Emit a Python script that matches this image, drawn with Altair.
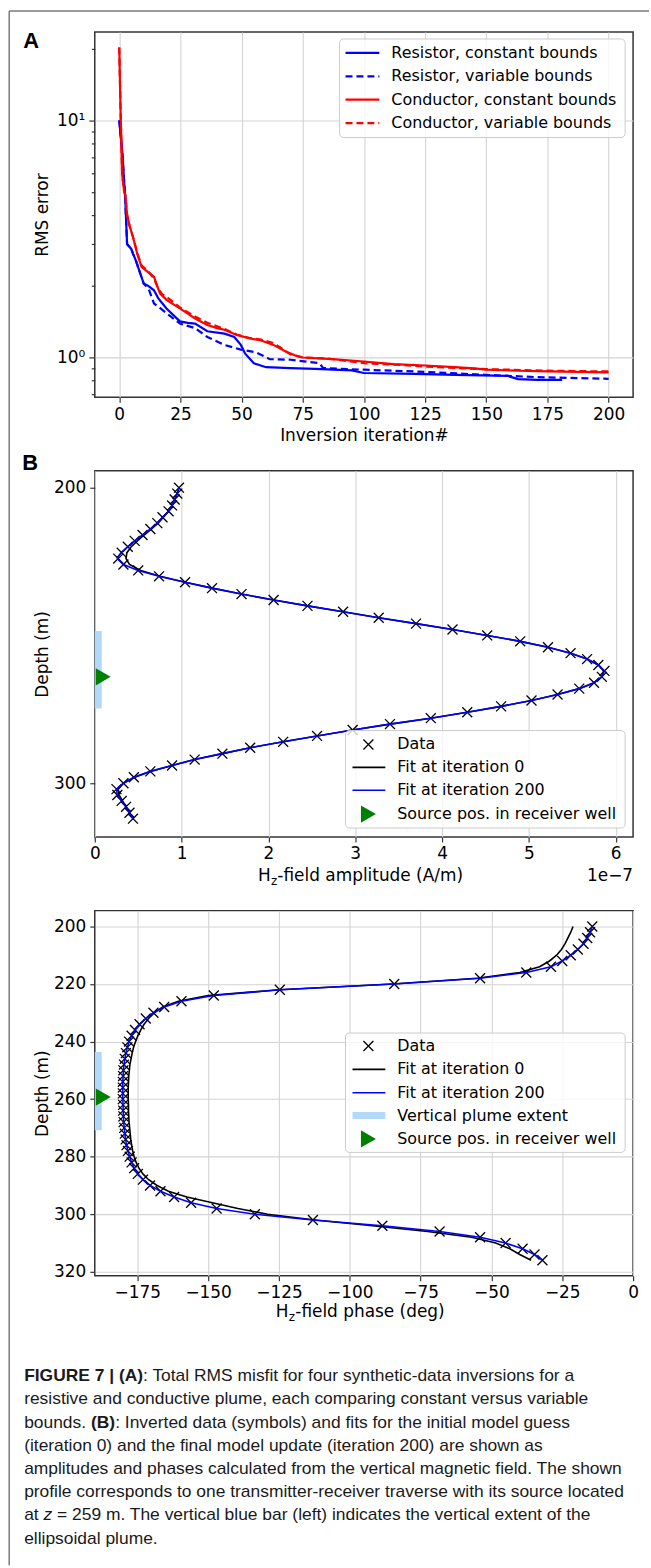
import altair as alt
import pandas as pd

# ---------------- Panel A: RMS error per inversion iteration ----------------
res_const_iter = [0, 1.2, 2.4, 3.2, 4.9, 5.7, 6.8, 10, 12, 14.2, 15.9, 19.3, 24.8, 28, 31, 36,
                  43, 47, 49.7, 51.4, 55, 60, 70, 80, 95, 100, 120.6, 137.5, 158.6, 163, 171, 181]
res_const_rms = [10.0, 7.4, 4.8, 3.01, 2.87, 2.73, 2.56, 2.05, 2.0, 1.92, 1.78, 1.61, 1.42, 1.40, 1.39, 1.29,
                 1.26, 1.22, 1.13, 1.04, 0.946, 0.91, 0.902, 0.896, 0.882, 0.86, 0.853, 0.845, 0.837, 0.811, 0.805, 0.805]

res_var_iter = [0, 1.2, 2.4, 3.2, 4.9, 5.7, 6.8, 10, 12, 14.2, 15.9, 21, 24.8, 31, 36, 43, 49.7, 56,
                61.5, 70, 81.8, 83.4, 100, 120.6, 150, 171, 200]
res_var_rms = [10.0, 7.4, 4.8, 3.01, 2.87, 2.73, 2.56, 2.05, 1.95, 1.69, 1.64, 1.49, 1.39, 1.33, 1.22, 1.13, 1.08, 1.05,
               0.984, 0.978, 0.946, 0.902, 0.888, 0.873, 0.845, 0.826, 0.813]

con_const_iter = [0, 0.5, 1.2, 2.0, 2.5, 3.2, 4.2, 5.7, 7.4, 9.1, 12, 14.2, 15.5, 16.7, 19.3, 22, 24.8, 28, 31, 36,
                  40, 43, 48, 53, 58, 63, 68, 72, 75, 87, 100, 112, 125, 137, 145, 150, 163, 175, 200]
con_const_rms = [20.3, 11.5, 5.9, 5.0, 4.85, 4.0, 3.6, 3.2, 2.73, 2.41, 2.28, 2.19, 2.0, 1.86, 1.75, 1.68, 1.61, 1.53, 1.46, 1.37,
                 1.33, 1.31, 1.245, 1.205, 1.18, 1.13, 1.06, 1.02, 1.0, 0.984, 0.962, 0.938, 0.925, 0.91, 0.90, 0.888, 0.879, 0.873, 0.865]

con_var_iter = [0, 0.5, 1.2, 2.0, 2.5, 3.2, 4.2, 5.7, 7.4, 9.1, 12, 14.2, 16, 17.5, 20, 25, 31, 36, 43, 48,
                53, 58, 63, 66, 70, 75, 85, 100, 115, 125, 140, 150, 175, 200]
con_var_rms = [20.3, 11.5, 5.9, 5.0, 4.85, 4.0, 3.6, 3.2, 2.75, 2.45, 2.3, 2.15, 1.95, 1.85, 1.78, 1.62, 1.49, 1.40, 1.32, 1.25,
               1.21, 1.19, 1.15, 1.10, 1.03, 1.0, 0.99, 0.946, 0.93, 0.916, 0.90, 0.893, 0.88, 0.873]

legend_a_labels = ["Resistor, constant bounds", "Resistor, variable bounds",
                   "Conductor, constant bounds", "Conductor, variable bounds"]

# ---------------- Panel B: Hz amplitude (units of 1e-7 A/m) vs depth ----------------
amp_depth = list(range(200, 313, 2))
amp_data = [0.97, 0.95, 0.92, 0.89, 0.85, 0.78, 0.72, 0.64, 0.55, 0.46,
            0.38, 0.31, 0.27, 0.33, 0.50, 0.74, 1.04, 1.35, 1.69, 2.06,
            2.45, 2.86, 3.27, 3.70, 4.12, 4.52, 4.90, 5.22, 5.48, 5.67,
            5.80, 5.87, 5.84, 5.75, 5.58, 5.33, 5.03, 4.68, 4.29, 3.87,
            3.40, 2.97, 2.56, 2.17, 1.79, 1.47, 1.15, 0.89, 0.64, 0.45,
            0.33, 0.25, 0.26, 0.31, 0.36, 0.40, 0.44]
amp_fit0 = [0.97, 0.95, 0.92, 0.89, 0.85, 0.79, 0.73, 0.65, 0.57, 0.49,
            0.42, 0.37, 0.36, 0.40, 0.53, 0.75, 1.04, 1.35, 1.69, 2.06,
            2.45, 2.86, 3.27, 3.70, 4.12, 4.52, 4.90, 5.22, 5.48, 5.67,
            5.80, 5.86, 5.84, 5.75, 5.58, 5.33, 5.03, 4.68, 4.29, 3.87,
            3.40, 2.97, 2.56, 2.17, 1.79, 1.47, 1.15, 0.89, 0.64, 0.46,
            0.33, 0.27, 0.28, 0.32, 0.36, 0.40, 0.44]
amp_fit200 = [0.97, 0.95, 0.92, 0.89, 0.85, 0.78, 0.72, 0.64, 0.55, 0.46,
              0.38, 0.30, 0.26, 0.33, 0.50, 0.74, 1.04, 1.35, 1.69, 2.06,
              2.45, 2.86, 3.27, 3.70, 4.12, 4.52, 4.90, 5.22, 5.48, 5.67,
              5.80, 5.87, 5.84, 5.75, 5.58, 5.33, 5.03, 4.68, 4.29, 3.87,
              3.40, 2.97, 2.56, 2.17, 1.79, 1.47, 1.15, 0.89, 0.64, 0.45,
              0.33, 0.25, 0.26, 0.31, 0.36, 0.40, 0.44]
plume_b = [248.5, 274.7]
source_b = [0.097, 264.0]

# ---------------- Panel C: Hz phase (deg) vs depth ----------------
phase_depth = list(range(200, 317, 2))
phase_data = [-14.4, -15.2, -16.2, -17.5, -19.5, -22.0, -25.0, -29.0, -37.7, -54.0,
              -84.3, -124.7, -148.0, -159.4, -165.5, -169.3, -172.0, -174.2, -175.8, -177.0,
              -177.9, -178.5, -179.0, -179.4, -179.7, -179.9, -180.0, -180.1, -180.1, -180.1,
              -180.1, -180.0, -180.0, -179.9, -179.8, -179.6, -179.4, -179.1, -178.8, -178.3,
              -177.7, -177.0, -176.1, -174.8, -173.0, -170.5, -166.8, -162.0, -156.0, -147.0,
              -133.5, -113.0, -88.5, -68.3, -54.0, -45.0, -39.0, -34.8, -32.0]
phase_fit0 = [-21.2, -22.0, -23.0, -24.0, -25.3, -27.0, -29.5, -33.0, -40.0, -55.0,
              -85.0, -124.7, -150.0, -160.5, -166.0, -169.0, -171.0, -172.6, -173.8, -174.8,
              -175.6, -176.3, -176.8, -177.2, -177.6, -177.8, -178.0, -178.1, -178.2, -178.2,
              -178.2, -178.1, -178.1, -178.0, -177.9, -177.7, -177.5, -177.3, -177.0, -176.6,
              -176.1, -175.4, -174.4, -173.0, -171.0, -168.0, -164.0, -157.5, -148.5, -139.5,
              -129.0, -112.3, -92.0, -72.5, -57.0, -48.5, -43.5, -40.0, -36.0]
phase_fit200 = list(phase_data)
plume_c = [243.6, 270.8]
source_c = [-187.0, 259.3]

legend_b_labels = ["Data", "Fit at iteration 0", "Fit at iteration 200", "Source pos. in receiver well"]
legend_c_labels = ["Data", "Fit at iteration 0", "Fit at iteration 200", "Vertical plume extent",
                   "Source pos. in receiver well"]

caption_lines = [
    "",
    "resistive and conductive plume, each comparing constant versus variable",
    "",
    "(iteration 0) and the final model update (iteration 200) are shown as",
    "amplitudes and phases calculated from the vertical magnetic field. The shown",
    "profile corresponds to one transmitter-receiver traverse with its source located",
    "",
    "ellipsoidal plume.",
]

# ---------------- styling ----------------
FONT = "DejaVu Sans"
CAP_FONT = "Liberation Sans"
CAP_SIZE = 17.5
BLUE, RED, GREEN, PLUME = "#0000ff", "#ff0000", "#008000", "#b3d9fa"
XPATH = "M-1,-1L1,1M-1,1L1,-1"
W = 541
HA, HB, HC = 367, 368, 367
one = pd.DataFrame({"k": [0]})


def deco_text(text, x, y, size=16, align="left", baseline="middle", weight="normal",
              style="normal", font=FONT, color="black"):
    return alt.Chart(one).mark_text(
        text=text, align=align, baseline=baseline, fontSize=size, fontWeight=weight,
        fontStyle=style, font=font, color=color
    ).encode(x=alt.value(x), y=alt.value(y))


def cap_text(text, x, y, weight="normal", style="normal"):
    return deco_text(text, x, y, size=CAP_SIZE, baseline="alphabetic", weight=weight,
                     style=style, font=CAP_FONT, color="#1a1a1a")


def legend_box(x1, y1, x2, y2):
    return alt.Chart(one).mark_rect(
        fill="white", fillOpacity=0.8, stroke="#cccccc", strokeWidth=1, cornerRadius=4
    ).encode(x=alt.value(x1), x2=alt.value(x2), y=alt.value(y1), y2=alt.value(y2))


def legend_labels(labels, ys, x):
    df = pd.DataFrame({"label": labels, "lx": [x] * len(labels), "ly": ys})
    return alt.Chart(df).mark_text(
        align="left", baseline="middle", font=FONT, fontSize=16, color="black"
    ).encode(x=alt.X("lx:Q", scale=None, axis=None),
             y=alt.Y("ly:Q", scale=None, axis=None), text="label:N")


def legend_line(x1, x2, y, color, width, dash=None):
    kw = dict(color=color, strokeWidth=width)
    if dash:
        kw["strokeDash"] = dash
    return alt.Chart(one).mark_rule(**kw).encode(x=alt.value(x1), x2=alt.value(x2), y=alt.value(y))


def legend_symbol(x, y, shape, filled, color, size, width=1.3):
    return alt.Chart(one).mark_point(
        shape=shape, filled=filled, color=color, size=size, opacity=1, strokeWidth=width
    ).encode(x=alt.value(x), y=alt.value(y))


# ---------------- Panel A ----------------
xA = dict(field="iter", type="quantitative",
          scale=alt.Scale(domain=[-10, 210], nice=False, zero=False),
          axis=alt.Axis(values=list(range(0, 201, 25)), title="Inversion iteration#",
                        titleX=W / 2, titleY=39, titleAlign="center", titleBaseline="middle"))
major_test = "datum.value == 1 || datum.value == 10"
yA = dict(field="rms", type="quantitative",
          scale=alt.Scale(type="log", domain=[0.68, 23.6], nice=False),
          axis=alt.Axis(values=[0.7, 0.8, 0.9, 1, 2, 3, 4, 5, 6, 7, 8, 9, 10, 20],
                        labelExpr="datum.value == 1 ? '10⁰' : (datum.value == 10 ? '10¹' : '')",
                        tickSize={"condition": {"test": major_test, "value": 6}, "value": 3.5},
                        gridColor={"condition": {"test": major_test, "value": "#d3d3d3"},
                                   "value": "transparent"},
                        title="RMS error", titleX=-53, titleY=HA / 2, titleAngle=270,
                        titleAlign="center", titleBaseline="middle"))


def rms_line(iters, vals, color, dash=None):
    df = pd.DataFrame({"iter": iters, "rms": vals})
    kw = dict(color=color, strokeWidth=2.2)
    if dash:
        kw["strokeDash"] = dash
    return alt.Chart(df).mark_line(**kw).encode(
        x=alt.X(**xA), y=alt.Y(**yA), order=alt.Order("iter:Q"))


DASH = [7, 4]
leg_a_y = [21, 44.5, 68, 91.5]
panel_a = alt.layer(
    rms_line(res_const_iter, res_const_rms, BLUE),
    rms_line(res_var_iter, res_var_rms, BLUE, DASH),
    rms_line(con_const_iter, con_const_rms, RED),
    rms_line(con_var_iter, con_var_rms, RED, DASH),
    legend_box(246, 7, 533, 106),
    legend_line(252, 286, leg_a_y[0], BLUE, 2.2),
    legend_line(252, 286, leg_a_y[1], BLUE, 2.2, DASH),
    legend_line(252, 286, leg_a_y[2], RED, 2.2),
    legend_line(252, 286, leg_a_y[3], RED, 2.2, DASH),
    legend_labels(legend_a_labels, leg_a_y, 298),
    deco_text("A", -72, 16, size=22, baseline="alphabetic", weight="bold", font="Liberation Sans"),
    # outer figure frame (left and top edges)
    alt.Chart(one).mark_rule(color="#7a7a7a", strokeWidth=1.5).encode(
        x=alt.value(-86), y=alt.value(-21), y2=alt.value(1541)),
    alt.Chart(one).mark_rule(color="#7a7a7a", strokeWidth=1.5).encode(
        x=alt.value(-86), x2=alt.value(557), y=alt.value(-21)),
).properties(width=W, height=HA)


# ---------------- profile panels ----------------
def profile_layers(xenc, yenc, depths, data, fit0, fit200, plume, source, xmin):
    d_data = pd.DataFrame({"depth": depths, "val": data})
    d_fit0 = pd.DataFrame({"depth": depths, "val": fit0})
    d_fit200 = pd.DataFrame({"depth": depths, "val": fit200})
    d_plume = pd.DataFrame({"val": [xmin], "depth": [plume[0]], "depth2": [plume[1]]})
    d_src = pd.DataFrame({"val": [source[0]], "depth": [source[1]]})
    return [
        alt.Chart(d_plume).mark_rule(color=PLUME, strokeWidth=14, clip=True).encode(
            x=alt.X(**xenc), y=alt.Y(**yenc), y2="depth2:Q"),
        alt.Chart(d_data).mark_point(shape=XPATH, filled=False, color="black", size=100,
                                     strokeWidth=1.3, opacity=1).encode(
            x=alt.X(**xenc), y=alt.Y(**yenc)),
        alt.Chart(d_fit0).mark_line(color="black", strokeWidth=1.6).encode(
            x=alt.X(**xenc), y=alt.Y(**yenc), order=alt.Order("depth:Q")),
        alt.Chart(d_fit200).mark_line(color=BLUE, strokeWidth=1.6).encode(
            x=alt.X(**xenc), y=alt.Y(**yenc), order=alt.Order("depth:Q")),
        alt.Chart(d_src).mark_point(shape="triangle-right", filled=True, color=GREEN,
                                    size=300, opacity=1).encode(
            x=alt.X(**xenc), y=alt.Y(**yenc)),
    ]


def axis_title_pieces(x0, y, rest):
    return [
        deco_text("H", x0, y, size=17),
        deco_text("z", x0 + 13, y + 5, size=12),
        deco_text(rest, x0 + 19.5, y, size=17),
    ]


# Panel B
xB = dict(field="val", type="quantitative",
          scale=alt.Scale(domain=[0, 6.2], nice=False, zero=False),
          axis=alt.Axis(values=[0, 1, 2, 3, 4, 5, 6], title=None))
yB = dict(field="depth", type="quantitative",
          scale=alt.Scale(domain=[194.3, 318.2], reverse=True, nice=False, zero=False),
          axis=alt.Axis(values=[200, 300], grid=False, title="Depth (m)", titleX=-53, titleY=HB / 2,
                        titleAngle=270, titleAlign="center", titleBaseline="middle"))
leg_b_y = [275, 298, 321, 345]
panel_b = alt.layer(
    *profile_layers(xB, yB, amp_depth, amp_data, amp_fit0, amp_fit200, plume_b, source_b, 0),
    legend_box(252, 261, 533, 359),
    legend_symbol(275, leg_b_y[0], XPATH, False, "black", 100),
    legend_line(259, 292, leg_b_y[1], "black", 1.6),
    legend_line(259, 292, leg_b_y[2], BLUE, 1.6),
    legend_symbol(275, leg_b_y[3], "triangle-right", True, GREEN, 300),
    legend_labels(legend_b_labels, leg_b_y, 304),
    *axis_title_pieces(164, 407, "-field amplitude (A/m)"),
    deco_text("1e−7", W, 407, size=17, align="right"),
    deco_text("B", -73, -1, size=22, baseline="alphabetic", weight="bold", font="Liberation Sans"),
).properties(width=W, height=HB)

# Panel C
xC = dict(field="val", type="quantitative",
          scale=alt.Scale(domain=[-190, 0], nice=False, zero=False),
          axis=alt.Axis(values=list(range(-175, 1, 25)), title=None))
yC = dict(field="depth", type="quantitative",
          scale=alt.Scale(domain=[194.5, 321.4], reverse=True, nice=False, zero=False),
          axis=alt.Axis(values=list(range(200, 321, 20)), title="Depth (m)", titleX=-53, titleY=HC / 2,
                        titleAngle=270, titleAlign="center", titleBaseline="middle"))
leg_c_y = [136, 159.5, 183, 206, 229.5]

cap_base = [473, 496.3, 519.6, 542.9, 566.2, 589.5, 612.8, 636.1]
cap_x = -71
cap_df = pd.DataFrame({"line": caption_lines, "lx": [cap_x] * 8, "ly": cap_base})
caption_regular = alt.Chart(cap_df).mark_text(
    align="left", baseline="alphabetic", font=CAP_FONT, fontSize=CAP_SIZE, color="#1a1a1a"
).encode(x=alt.X("lx:Q", scale=None, axis=None), y=alt.Y("ly:Q", scale=None, axis=None),
         text="line:N")

panel_c = alt.layer(
    *profile_layers(xC, yC, phase_depth, phase_data, phase_fit0, phase_fit200, plume_c, source_c, -190),
    legend_box(252, 123, 533, 243),
    legend_symbol(275, leg_c_y[0], XPATH, False, "black", 100),
    legend_line(259, 292, leg_c_y[1], "black", 1.6),
    legend_line(259, 292, leg_c_y[2], BLUE, 1.6),
    legend_line(259, 292, leg_c_y[3], PLUME, 7),
    legend_symbol(275, leg_c_y[4], "triangle-right", True, GREEN, 300),
    legend_labels(legend_c_labels, leg_c_y, 304),
    *axis_title_pieces(182, 403, "-field phase (deg)"),
    caption_regular,
    cap_text("FIGURE 7 | (A)", cap_x, cap_base[0], weight="bold"),
    cap_text(": Total RMS misfit for four synthetic-data inversions for a", 48.5, cap_base[0]),
    cap_text("bounds.", cap_x, cap_base[2]),
    cap_text("(B)", -3.8, cap_base[2], weight="bold"),
    cap_text(": Inverted data (symbols) and fits for the initial model guess", 20.5, cap_base[2]),
    cap_text("at", cap_x, cap_base[6]),
    cap_text("z", -51.5, cap_base[6], style="italic"),
    cap_text("= 259 m. The vertical blue bar (left) indicates the vertical extent of the", -37.9,
             cap_base[6]),
).properties(width=W, height=HC)

chart = alt.vconcat(panel_a, panel_b, panel_c, spacing=74, bounds="flush").properties(
    padding={"left": 7.25, "top": 5.25, "right": 0, "bottom": 0},
    autosize=alt.AutoSizeParams(type="pad"),
    background="white",
).configure_view(
    stroke="#333333", strokeWidth=1.5
).configure_axis(
    labelFont=FONT, labelFontSize=17, labelColor="black",
    titleFont=FONT, titleFontSize=17, titleFontWeight="normal", titleColor="black",
    tickColor="#333333", tickWidth=1.2, tickSize=5, gridColor="#d3d3d3", gridWidth=1.1,
    domain=False, labelFlush=False, labelOverlap=False, labelPadding=4,
)

chart.save("out.html", embed_options={"renderer": "svg", "actions": False})
